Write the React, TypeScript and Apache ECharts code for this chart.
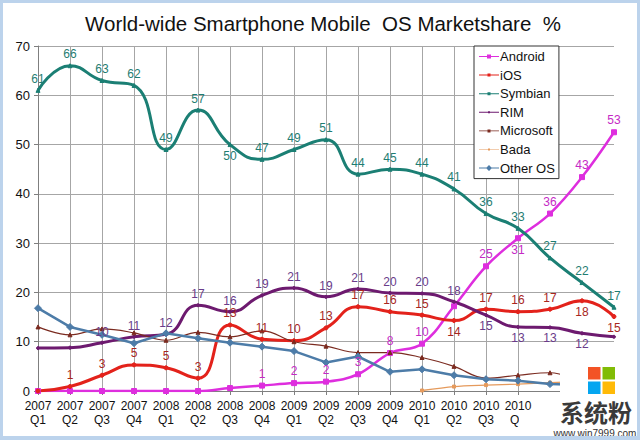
import React, { useEffect, useRef } from "react";
import * as echarts from "echarts";

const categories = [
  "2007\nQ1", "2007\nQ2", "2007\nQ3", "2007\nQ4",
  "2008\nQ1", "2008\nQ2", "2008\nQ3", "2008\nQ4",
  "2009\nQ1", "2009\nQ2", "2009\nQ3", "2009\nQ4",
  "2010\nQ1", "2010\nQ2", "2010\nQ3", "2010\nQ4",
  "2011\nQ1", "2011\nQ2", "2011\nQ3",
];
// tick labels hidden in the reference by the watermark
const hiddenTickLabels = [16, 17, 18];

const android = [0, 0, 0, 0, 0, 0, 0.6, 1.1, 1.6, 1.9, 3.4, 7.7, 9.6, 17.2, 25.3, 31, 36, 43.4, 52.5];
const ios = [0, 0.9, 3.2, 5.3, 4.7, 2.6, 13.4, 10.5, 10.2, 12.8, 17.1, 16.1, 15.4, 14.3, 16.6, 16.1, 16.6, 18.3, 15.1];
const symbian = [61, 66, 63, 62, 49, 57, 50, 47, 49, 51, 44, 45, 44, 41, 36, 33, 27, 22, 17];
const rim = [8.7, 8.8, 9.8, 11.0, 11.5, 17.4, 16.1, 19.4, 20.9, 19.1, 20.7, 19.9, 19.8, 18.1, 15.4, 13.0, 12.9, 11.7, 11.0];
const microsoft = [13.0, 11.4, 12.6, 11.8, 10.3, 11.9, 11.0, 12.2, 10.0, 9.1, 7.8, 7.8, 6.8, 5.0, 2.6, 3.2, 3.7, 1.6, null];
const bada = [null, null, null, null, null, null, null, null, null, null, null, null, 0.1, 0.9, 1.2, 1.4, 1.7, 1.9, null];
const otherOS = [16.8, 13.0, 11.4, 9.7, 11.7, 10.7, 9.8, 9.0, 8.1, 5.8, 7.0, 3.9, 4.4, 3.2, 2.4, 2.1, 1.4, 1.2, null];

const yTicks = { min: 0, max: 70, interval: 10 };

// which data labels are shown, and which sit below their point
const shownLabels: Record<string, number[]> = {
  Android: [7, 8, 9, 10, 11, 12, 14, 15, 16, 17, 18],
  iOS: [1, 2, 3, 4, 5, 6, 7, 8, 9, 10, 11, 12, 13, 14, 15, 16, 17, 18],
  Symbian: Array.from({ length: 19 }, (_, i) => i),
  RIM: [2, 3, 4, 5, 6, 7, 8, 9, 10, 11, 12, 13, 14, 15, 16, 17],
};
const belowLabels: Record<string, number[]> = {
  Android: [15],
  iOS: [13, 17, 18],
  Symbian: [6],
  RIM: [14, 15, 16, 17],
};

function buildData(name: string, values: (number | null)[]) {
  const shown = shownLabels[name] || [];
  const below = belowLabels[name] || [];
  return values.map((v, i) => {
    if (v === null) return null;
    return {
      value: v,
      label: {
        show: shown.includes(i),
        position: below.includes(i) ? "bottom" : "top",
      },
    };
  });
}

export default function App() {
  const ref = useRef<HTMLDivElement>(null);

  useEffect(() => {
    if (!ref.current) return;
    const chart = echarts.init(ref.current, null, { renderer: "svg" });
    const font = "Liberation Sans, Arial, sans-serif";

    const mk = (
      name: string,
      values: (number | null)[],
      color: string,
      width: number,
      symbol: string,
      symbolSize: number,
      smooth: boolean | number,
      labelColor: string
    ) => ({
      name,
      type: "line",
      data: buildData(name, values),
      smooth,
      symbol,
      symbolSize,
      showSymbol: true,
      connectNulls: false,
      lineStyle: { color, width },
      itemStyle: { color, borderColor: color },
      label: {
        show: false,
        color: labelColor,
        fontSize: 12,
        fontFamily: font,
        distance: 3,
        formatter: (p: any) => String(Math.round(p.value)),
      },
      emphasis: { disabled: true },
    });

    chart.setOption({
      animation: false,
      backgroundColor: "#ffffff",
      textStyle: { fontFamily: font },
      title: {
        text: "World-wide Smartphone Mobile  OS Marketshare  %",
        left: 318,
        textAlign: "center",
        top: 8,
        textStyle: { fontSize: 20.5, fontWeight: "normal", color: "#111", fontFamily: font },
      },
      legend: {
        orient: "vertical",
        left: 474,
        top: 46,
        padding: [4, 4, 4, 5],
        itemGap: 5.6,
        itemWidth: 20,
        itemHeight: 15,
        borderColor: "#333",
        borderWidth: 1,
        borderRadius: 0,
        backgroundColor: "#fff",
        itemStyle: { borderWidth: 0 },
        textStyle: { fontSize: 13, color: "#111", fontFamily: font, padding: [0, 0, 0, -4] },
        data: [
          { name: "Android", icon: "path://M0,7H20V8H0Z M8,5.5H12V9.5H8Z" },
          { name: "iOS", icon: "path://M0,7H20V8H0Z M8.5,6H11.5V9H8.5Z" },
          { name: "Symbian", icon: "path://M0,7H20V8H0Z M8.5,6H11.5V9H8.5Z" },
          { name: "RIM", icon: "path://M0,7H20V8H0Z M9,6.5H11V8.5H9Z" },
          { name: "Microsoft", icon: "path://M0,7.2H20V7.8H0Z M8.5,6H11.5V9H8.5Z" },
          { name: "Bada", icon: "path://M0,7.2H20V7.8H0Z M9,6.5H11V8.5H9Z" },
          { name: "Other OS", icon: "path://M0,7H20V8H0Z M10,4.5L13,7.5L10,10.5L7,7.5Z" },
        ],
        z: 10,
      },
      grid: { left: 38, right: 26, top: 46, bottom: 49, containLabel: false },
      xAxis: {
        type: "category",
        data: categories,
        boundaryGap: false,
        axisLine: { show: true, lineStyle: { color: "#7f7f7f", width: 1 } },
        axisTick: { show: true, length: 4, lineStyle: { color: "#7f7f7f" } },
        axisLabel: {
          color: "#111",
          fontSize: 12,
          fontFamily: font,
          interval: (i: number) => !hiddenTickLabels.includes(i),
          margin: 8,
          lineHeight: 14,
        },
        splitLine: { show: true, lineStyle: { color: "#a6a6a6", width: 1 } },
      },
      yAxis: {
        type: "value",
        min: yTicks.min,
        max: yTicks.max,
        interval: yTicks.interval,
        axisLine: { show: true, lineStyle: { color: "#7f7f7f", width: 1 } },
        axisTick: { show: true, length: 4, lineStyle: { color: "#7f7f7f" } },
        axisLabel: { color: "#111", fontSize: 13, fontFamily: font, margin: 8 },
        splitLine: { show: true, lineStyle: { color: "#a6a6a6", width: 1 } },
      },
      series: [
        mk("Android", android, "#de2ede", 2.5, "rect", 5, 0.4, "#c52ac5"),
        mk("iOS", ios, "#e3221b", 3, "circle", 4, 0.5, "#a8261e"),
        mk("Symbian", symbian, "#1b7f74", 3, "triangle", 4, 0.5, "#1f7d72"),
        mk("RIM", rim, "#6d1a6f", 3, "circle", 3, 0.5, "#6a3c8a"),
        mk("Microsoft", microsoft, "#7b2b20", 1.2, "triangle", 4, 0.4, "#7b2b20"),
        mk("Bada", bada, "#e59a5c", 1.3, "rect", 3, 0.3, "#e59a5c"),
        mk("Other OS", otherOS, "#4d7ca8", 2.5, "diamond", 7, false, "#4d7ca8"),
      ],
      graphic: [
        { type: "rect", z: 100, shape: { x: 538, y: 394, width: 99, height: 43 }, style: { fill: "#fff" } },
        { type: "rect", z: 100, shape: { x: 519, y: 412, width: 20, height: 25 }, style: { fill: "#fff" } },
        { type: "rect", z: 100, shape: { x: 560, y: 360, width: 77, height: 36 }, style: { fill: "#fff" } },
        { type: "rect", z: 101, shape: { x: 588, y: 367, width: 12.5, height: 12.5 }, style: { fill: "#f35325" } },
        { type: "rect", z: 101, shape: { x: 602.5, y: 367, width: 12.5, height: 12.5 }, style: { fill: "#81bc06" } },
        { type: "rect", z: 101, shape: { x: 588, y: 381.5, width: 12.5, height: 12.5 }, style: { fill: "#05a6f0" } },
        { type: "rect", z: 101, shape: { x: 602.5, y: 381.5, width: 12.5, height: 12.5 }, style: { fill: "#ffba08" } },
        {
          type: "text", z: 101, x: 596, y: 411,
          style: {
            text: "系统粉", fill: "#3a3a3a", font: "bold 24px 'Noto Sans CJK SC'",
            textAlign: "center", textVerticalAlign: "middle",
          },
        },
        {
          type: "text", z: 101, x: 595, y: 433,
          style: {
            text: "www.win7999.com", fill: "#333", font: "10px 'Liberation Sans'",
            textAlign: "center", textVerticalAlign: "middle",
          },
        },
      ],
    });

    return () => chart.dispose();
  }, []);

  return (
    <div style={{ position: "fixed", left: 0, top: 0, width: 640, height: 440, background: "#fff" }}>
      <div ref={ref} style={{ position: "absolute", left: 0, top: 0, width: 640, height: 440 }} />
      <div
        style={{
          position: "absolute",
          left: 0,
          top: 0,
          width: 640,
          height: 440,
          boxSizing: "border-box",
          borderStyle: "solid",
          borderColor: "#bcd3ec",
          borderWidth: "3px 3px 4px 3px",
          pointerEvents: "none",
        }}
      />
    </div>
  );
}
